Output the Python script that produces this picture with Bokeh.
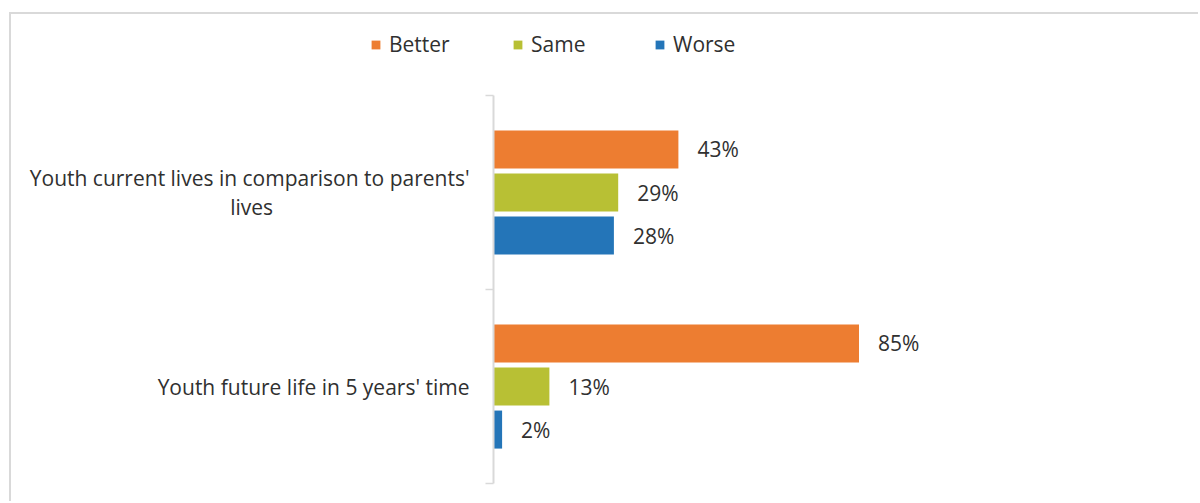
from bokeh.plotting import figure
from bokeh.models import ColumnDataSource, FixedTicker, Range1d, Legend, LegendItem
from bokeh.core.properties import value
from bokeh.embed import file_html
from bokeh.resources import INLINE

# ---- data ----
categories = ["Youth future life in 5 years' time",
              "Youth current lives in comparison to parents'\nlives" + "\u00a0" * 36]
series = ["Better", "Same", "Worse"]
better = [85, 43]
same = [13, 29]
worse = [2, 28]
colors = ["#ED7D31", "#B8C034", "#2475B8"]

# ---- layout constants (pixels) ----
W, H = 1189, 489
AXIS_X = 482            # axis position from frame left
AXIS_BOTTOM = 469       # y=0 position from frame top
PX_PER_PCT = 4.3
PX_PER_CAT = 194.0

cat_pos = [0.5, 1.5]
offsets = [0.222, 0.0, -0.222]
bar_h = 0.196
FONT = "Open Sans"
FS = "21px"
TXT = "#303030"

x_range = Range1d(-AXIS_X / PX_PER_PCT, (W - AXIS_X) / PX_PER_PCT)
y_range = Range1d(-(H - AXIS_BOTTOM) / PX_PER_CAT, AXIS_BOTTOM / PX_PER_CAT)

p = figure(width=W, height=H, x_range=x_range, y_range=y_range,
           output_backend="svg", toolbar_location=None,
           x_axis_location=None,
           min_border_left=0, min_border_right=0,
           min_border_top=0, min_border_bottom=0)
p.styles = {"border-top": "2px solid #d9d9d9",
            "border-left": "2px solid #d9d9d9",
            "margin-top": "12px", "margin-left": "9px"}
p.outline_line_color = None
p.grid.visible = False
p.background_fill_color = "white"
p.border_fill_color = "white"

renderers = []
for vals, name, col, off in zip([better, same, worse], series, colors, offsets):
    ys = [c + off for c in cat_pos]
    src = ColumnDataSource(dict(y=ys, v=vals, lab=[f"{v}%" for v in vals]))
    r = p.hbar(y="y", right="v", left=0, height=bar_h, source=src,
               fill_color=col, line_color=None)
    p.text(x="v", y="y", text="lab", source=src, x_offset=19,
           text_align="left", text_baseline="middle",
           text_font=value(FONT), text_font_size=FS, text_color=TXT)
    renderers.append((name, r))

ax = p.yaxis[0]
ax.fixed_location = 0
ax.bounds = (0, 2)
ax.ticker = FixedTicker(ticks=cat_pos, minor_ticks=[0, 1, 2])
ax.major_label_overrides = {cat_pos[0]: categories[0], cat_pos[1]: categories[1]}
ax.axis_line_color = "#d9d9d9"
ax.axis_line_width = 2
ax.major_tick_line_color = None
ax.major_tick_out = 0
ax.major_tick_in = 0
ax.minor_tick_line_color = "#d9d9d9"
ax.minor_tick_line_width = 1.5
ax.minor_tick_out = 8
ax.minor_tick_in = 0
ax.major_label_standoff = 16
ax.major_label_text_font = FONT
ax.major_label_text_font_size = FS
ax.major_label_text_color = TXT
ax.major_label_text_line_height = 1.07

legend = Legend(items=[LegendItem(label=n, renderers=[r]) for n, r in renderers],
                orientation="horizontal", location=(359, 445),
                glyph_width=11, glyph_height=11, label_standoff=8,
                label_width=110, spacing=13, padding=0, margin=0,
                border_line_color=None, background_fill_alpha=0,
                label_text_font=FONT, label_text_font_size=FS,
                label_text_color=TXT)
p.add_layout(legend, "center")

open("out.html", "w").write(file_html(p, INLINE))
